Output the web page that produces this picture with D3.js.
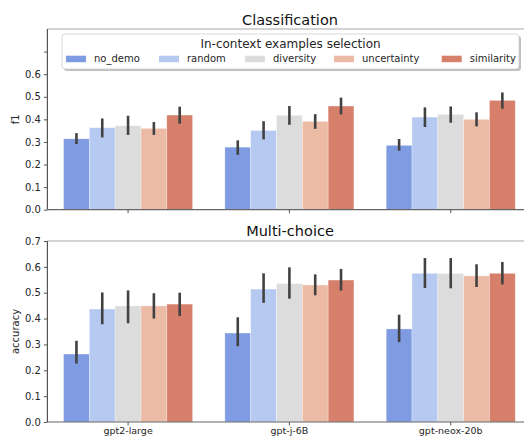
<!DOCTYPE html>
<html><head><meta charset="utf-8">
<script src="https://cdn.jsdelivr.net/npm/d3@7"></script>
<style>body{margin:0;background:#fff}svg{display:block;font-family:"DejaVu Sans",sans-serif}</style>
</head><body><svg id="c" width="524" height="436"></svg>
<script>
const models = ["gpt2-large","gpt-j-6B","gpt-neox-20b"];
const methods = ["no_demo","random","diversity","uncertainty","similarity"];
const colors = ["#7f9ce3","#b5c9f1","#dcdcdc","#ecbba5","#d6806c"];
// Classification f1: [model][method]
const clsMean = [[0.314,0.363,0.372,0.360,0.419],[0.277,0.351,0.418,0.391,0.459],[0.285,0.410,0.422,0.400,0.484]];
const clsLo   = [[0.291,0.320,0.331,0.331,0.381],[0.243,0.311,0.376,0.358,0.422],[0.261,0.366,0.385,0.369,0.447]];
const clsHi   = [[0.339,0.404,0.416,0.388,0.456],[0.307,0.392,0.459,0.423,0.496],[0.313,0.453,0.457,0.431,0.519]];
// Multi-choice accuracy
const mcMean = [[0.263,0.437,0.449,0.449,0.456],[0.344,0.514,0.535,0.530,0.549],[0.360,0.575,0.574,0.565,0.575]];
const mcLo   = [[0.226,0.378,0.382,0.400,0.410],[0.293,0.461,0.477,0.490,0.508],[0.309,0.518,0.517,0.522,0.532]];
const mcHi   = [[0.314,0.501,0.509,0.498,0.500],[0.405,0.575,0.598,0.571,0.592],[0.415,0.634,0.634,0.610,0.619]];
const clsTicks = [0,0.1,0.2,0.3,0.4,0.5,0.6,0.7];
const clsTickLabels = ["0.0","0.1","0.2","0.3","0.4","0.5","0.6",""];
const mcTicks = [0,0.1,0.2,0.3,0.4,0.5,0.6,0.7];
const mcTickLabels = ["0.0","0.1","0.2","0.3","0.4","0.5","0.6","0.7"];

const svg = d3.select("#c");
const x0 = d3.scaleBand().domain(models).range([47.4, 531.4]).paddingInner(0).paddingOuter(0);
const bandW = x0.bandwidth();
const x1 = d3.scaleBand().domain(methods).range([bandW*0.1, bandW*0.9]);

function panel(opt){
  const g = svg.append("g");
  const y = d3.scaleLinear().domain(opt.domain).range([opt.bottom, opt.top]);
  models.forEach((m,i)=>{
    methods.forEach((k,j)=>{
      g.append("rect").attr("x", x0(m)+x1(k)).attr("width", x1.bandwidth())
        .attr("y", y(opt.mean[i][j])).attr("height", y(0)-y(opt.mean[i][j]))
        .attr("fill", colors[j]).attr("stroke","#fff").attr("stroke-width",0.6).attr("stroke-opacity",0.5);
    });
  });
  models.forEach((m,i)=>{
    methods.forEach((k,j)=>{
      const cx = x0(m)+x1(k)+x1.bandwidth()/2;
      g.append("line").attr("x1",cx).attr("x2",cx).attr("y1",y(opt.lo[i][j])).attr("y2",y(opt.hi[i][j]))
        .attr("stroke","#424242").attr("stroke-width",2.6);
    });
  });
  g.append("line").attr("x1",47.4).attr("x2",531.4).attr("y1",opt.top).attr("y2",opt.top).attr("stroke","#a8a8a8").attr("stroke-width",1.2);
  g.append("line").attr("x1",47.4).attr("x2",531.4).attr("y1",opt.bottom).attr("y2",opt.bottom).attr("stroke","#666").attr("stroke-width",1.2);
  g.append("line").attr("x1",47.4).attr("x2",47.4).attr("y1",opt.top).attr("y2",opt.bottom).attr("stroke","#555").attr("stroke-width",1.2);
  const ya = d3.axisLeft(y).tickValues(opt.ticks).tickFormat((d,i)=>opt.tickLabels[i]).tickSize(3.5).tickPadding(3);
  const ag = g.append("g").attr("transform","translate(47.4,0)").call(ya);
  ag.select(".domain").remove();
  ag.selectAll("line").attr("stroke","#555");
  ag.selectAll("text").attr("font-size","10px").attr("fill","#262626").attr("font-family","DejaVu Sans");
  const xa = d3.axisBottom(x0).tickSize(3.5).tickPadding(1.5).tickFormat(opt.showX ? (d=>d) : (()=>""));
  const xg = g.append("g").attr("transform",`translate(0,${opt.bottom})`).call(xa);
  xg.select(".domain").remove();
  xg.selectAll("line").attr("stroke","#555");
  xg.selectAll("text").attr("font-size","9.5px").attr("fill","#262626").attr("font-family","DejaVu Sans");
  svg.append("text").attr("x",290).attr("y",opt.titleY).attr("text-anchor","middle").attr("font-size","14.5px").attr("fill","#111").text(opt.title);
  svg.append("text").attr("transform",`translate(${opt.ylabX},${(opt.top+opt.bottom)/2}) rotate(-90)`)
    .attr("text-anchor","middle").attr("font-size","10px").attr("fill","#262626").text(opt.ylabel);
}

panel({domain:[0,0.8], top:29, bottom:209.7, mean:clsMean, lo:clsLo, hi:clsHi, ticks:clsTicks, tickLabels:clsTickLabels,
  title:"Classification", titleY:24.5, ylabel:"f1", ylabX:18.5, showX:false});
panel({domain:[0,0.7], top:241, bottom:422, mean:mcMean, lo:mcLo, hi:mcHi, ticks:mcTicks, tickLabels:mcTickLabels,
  title:"Multi-choice", titleY:235.5, ylabel:"accuracy", ylabX:18.5, showX:true});

const lg = svg.append("g");
lg.append("rect").attr("x",64).attr("y",36).attr("width",457).attr("height",35).attr("rx",3)
  .attr("fill","#000").attr("opacity",0.25);
lg.append("rect").attr("x",62).attr("y",34).attr("width",457).attr("height",35).attr("rx",3)
  .attr("fill","#fff").attr("stroke","#cfcfcf").attr("stroke-width",0.8);
lg.append("text").attr("x",290.5).attr("y",48).attr("text-anchor","middle").attr("font-size","12px").attr("fill","#262626").text("In-context examples selection");
const patchX = [66,159,245,334,441.7];
methods.forEach((k,j)=>{
  lg.append("rect").attr("x",patchX[j]).attr("y",55.7).attr("width",20).attr("height",6.5).attr("fill",colors[j]);
  lg.append("text").attr("x",patchX[j]+28).attr("y",61.8).attr("font-size","10px").attr("fill","#262626").text(k);
});
</script></body></html>
